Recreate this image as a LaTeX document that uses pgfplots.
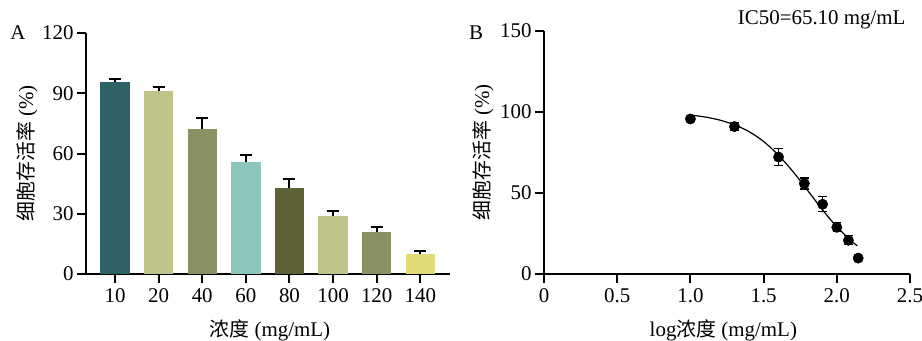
\documentclass[border=0pt]{standalone}
\usepackage{fontspec}
\setmainfont{Liberation Serif}
\newfontfamily\cjk{Noto Sans CJK SC}[Scale=0.95]
\usepackage{pgfplots}
\pgfplotsset{compat=1.18}
\definecolor{c1}{HTML}{2E6265}
\definecolor{c2}{HTML}{BFC48B}
\definecolor{c3}{HTML}{8A9061}
\definecolor{c4}{HTML}{8DC6BE}
\definecolor{c5}{HTML}{5E6135}
\definecolor{c6}{HTML}{E2DC78}
\pgfplotsset{
  common/.style={
    scale only axis,
    anchor=south west,
    axis lines*=left,
    tick align=outside,
    major tick length=9bp,
    axis line style={line width=2bp, black},
    every tick/.style={line width=2bp, black},
    tick label style={font=\fontsize{21}{24}\selectfont, black},
    label style={font=\fontsize{21}{24}\selectfont, black},
    /pgf/number format/assume math mode=true,
    clip=false,
  },
  abar/.style={ybar, bar shift=0pt, bar width=29.3bp, draw=none, fill=#1,
    error bars/.cd, y dir=plus, y explicit,
    error bar style={line width=2bp, black},
    error mark options={rotate=90, mark size=6bp, line width=2bp, black}},
}
\begin{document}
\begin{tikzpicture}[x=1bp,y=1bp]
\path[use as bounding box] (0,0) rectangle (922,340);
\begin{axis}[common,
  at={(86bp,66bp)}, width=364bp, height=241bp,
  xmin=-0.665, xmax=7.68, ymin=0, ymax=120,
  ytick={0,30,60,90,120},
  xtick={0,1,2,3,4,5,6,7},
  xticklabels={10,20,40,60,80,100,120,140},
  xticklabel style={yshift=-2bp},
  ylabel={{\cjk 细胞存活率} (\%)},
  xlabel={{\cjk 浓度} (mg/mL)},
  ylabel style={at={(axis description cs:-0.162,0.5)}, anchor=center},
  xlabel style={at={(axis description cs:0.505,-0.232)}, anchor=center},
]
\addplot[abar=c1] coordinates {(0,95.6) +- (0,1.6)};
\addplot[abar=c2] coordinates {(1,90.9) +- (0,2.3)};
\addplot[abar=c3] coordinates {(2,72.1) +- (0,5.7)};
\addplot[abar=c4] coordinates {(3,55.8) +- (0,3.4)};
\addplot[abar=c5] coordinates {(4,43.0) +- (0,4.4)};
\addplot[abar=c2] coordinates {(5,28.8) +- (0,2.8)};
\addplot[abar=c3] coordinates {(6,20.8) +- (0,2.8)};
\addplot[abar=c6] coordinates {(7,9.8) +- (0,1.8)};
\end{axis}
\begin{axis}[common,
  at={(544bp,66bp)}, width=366bp, height=243.3bp,
  xmin=0, xmax=2.5, ymin=0, ymax=150,
  ytick={0,50,100,150},
  xtick={0,0.5,1,1.5,2,2.5},
  xticklabels={0,0.5,1.0,1.5,2.0,2.5},
  xticklabel style={yshift=-2bp},
  ylabel={{\cjk 细胞存活率} (\%)},
  xlabel={log{\cjk 浓度} (mg/mL)},
  ylabel style={at={(axis description cs:-0.167,0.5)}, anchor=center},
  xlabel style={at={(axis description cs:0.49,-0.230)}, anchor=center},
]
\addplot[smooth, line width=1.2bp, black] coordinates {
(1.0,98.0) (1.1,96.8) (1.2,94.9) (1.3,92.0) (1.4,87.8) (1.5,81.7)
(1.6,73.4) (1.7,63.2) (1.8,51.6) (1.9,39.8) (2.0,29.1) (2.1,20.3) (2.14,17.4)};
\addplot[only marks, mark=*, mark size=5.2bp, black,
  error bars/.cd, y dir=both, y explicit,
  error bar style={line width=1.2bp, black},
  error mark options={rotate=90, mark size=4.2bp, line width=1.2bp, black}]
coordinates {
(1.000,95.6) +- (0,1.6)
(1.301,90.9) +- (0,2.3)
(1.602,72.1) +- (0,5.4)
(1.778,55.8) +- (0,3.4)
(1.903,43.0) +- (0,4.6)
(2.000,28.8) +- (0,2.8)
(2.079,20.8) +- (0,2.8)
(2.146,9.8) +- (0,1.8)};
\end{axis}
\node[font=\fontsize{21}{24}\selectfont] at (18,307) {A};
\node[font=\fontsize{21}{24}\selectfont] at (476,307) {B};
\node[font=\fontsize{21}{24}\selectfont, anchor=east] at (909,320) {IC50=65.10 mg/mL};
\end{tikzpicture}
\end{document}
